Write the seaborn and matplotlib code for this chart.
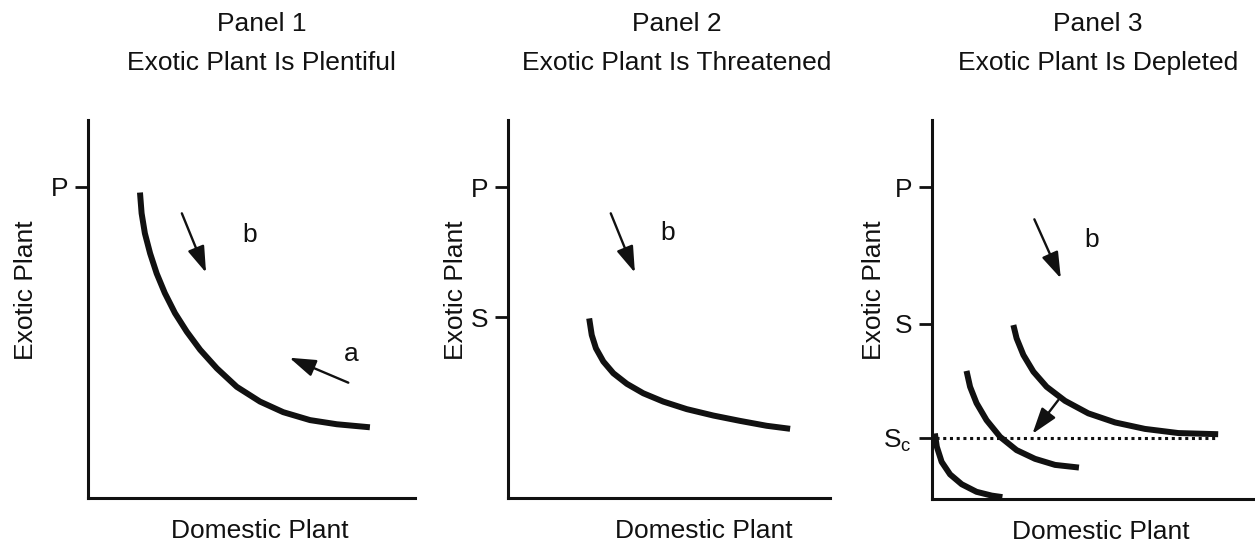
import matplotlib
matplotlib.use("Agg")
import matplotlib.pyplot as plt
import seaborn as sns
import pandas as pd

sns.set_style("white")
plt.rcParams["font.family"] = ["Liberation Sans", "DejaVu Sans"]
plt.rcParams["mathtext.default"] = "regular"

INK = "#111111"
FS = 19

# panel titles and axis names
panel_names = ["Panel 1", "Panel 2", "Panel 3"]
subtitles = ["Exotic Plant Is Plentiful",
             "Exotic Plant Is Threatened",
             "Exotic Plant Is Depleted"]
x_name = "Domestic Plant"
y_name = "Exotic Plant"

# y-axis tick values / labels per panel
p1_ticks, p1_labels = [8.23], ["P"]
p2_ticks, p2_labels = [8.22, 4.78], ["P", "S"]
p3_ticks, p3_labels = [8.23, 4.62, 1.62], ["P", "S", "S$_c$"]

# indifference curves (0-10 units)
p1_x = [1.59, 1.64, 1.74, 1.90, 2.10, 2.35, 2.66, 3.02, 3.43, 3.94, 4.55,
        5.26, 5.97, 6.79, 7.61, 8.62]
p1_y = [8.08, 7.53, 7.00, 6.47, 5.94, 5.42, 4.89, 4.40, 3.92, 3.43, 2.94,
        2.55, 2.27, 2.06, 1.95, 1.87]

p2_x = [2.52, 2.60, 2.73, 2.96, 3.27, 3.69, 4.20, 4.82, 5.55, 6.38, 7.20,
        8.03, 8.76]
p2_y = [4.75, 4.31, 3.96, 3.61, 3.30, 3.02, 2.77, 2.55, 2.35, 2.18, 2.04,
        1.91, 1.83]

p3_hi_x = [2.52, 2.62, 2.83, 3.14, 3.55, 4.12, 4.84, 5.67, 6.59, 7.63, 8.86]
p3_hi_y = [4.59, 4.24, 3.80, 3.36, 2.96, 2.59, 2.26, 2.02, 1.85, 1.74, 1.71]
p3_mid_x = [1.07, 1.18, 1.38, 1.69, 2.11, 2.62, 3.19, 3.81, 4.55]
p3_mid_y = [3.38, 2.96, 2.53, 2.08, 1.64, 1.29, 1.06, 0.90, 0.83]
p3_lo_x = [0.09, 0.15, 0.30, 0.56, 0.92, 1.38, 1.85, 2.18]
p3_lo_y = [1.73, 1.38, 0.98, 0.65, 0.39, 0.19, 0.09, 0.05]

# critical stock line in panel 3
sc_x = [0.12, 8.86]
sc_y = [1.61, 1.61]

# arrows: (start x, start y, end x, end y, label, label x, label y)
p1_arrows = [(2.87, 7.53, 3.61, 5.96, "b", 4.95, 6.96),
             (7.96, 3.05, 6.16, 3.71, "a", 8.06, 3.81)]
p2_arrows = [(3.19, 7.53, 3.94, 5.96, "b", 4.95, 7.00)]
p3_arrows = [(3.17, 7.38, 3.99, 5.82, "b", 4.94, 6.83),
             (3.91, 2.61, 3.11, 1.72, "", 0, 0)]

fig = plt.figure(figsize=(12.55, 5.44), dpi=100)
boxes = [[0.0701, 0.0846, 0.2606, 0.6949],
         [0.4048, 0.0846, 0.2566, 0.6949],
         [0.7426, 0.0827, 0.2574, 0.6967]]
axes = [fig.add_axes(b) for b in boxes]

panels = [
    (p1_ticks, p1_labels, [(p1_x, p1_y)], p1_arrows),
    (p2_ticks, p2_labels, [(p2_x, p2_y)], p2_arrows),
    (p3_ticks, p3_labels, [(p3_hi_x, p3_hi_y), (p3_mid_x, p3_mid_y),
                           (p3_lo_x, p3_lo_y)], p3_arrows),
]
title_x = [0.531, 0.525, 0.514]
xlab_x = [0.526, 0.609, 0.522]
ylab_x = [-0.191, -0.163, -0.178]

for i, (ax, (tk, tl, curves, arrows)) in enumerate(zip(axes, panels)):
    ax.set_xlim(0, 10)
    ax.set_ylim(0, 10)
    sns.despine(ax=ax)
    for side in ["left", "bottom"]:
        ax.spines[side].set_linewidth(2.2)
        ax.spines[side].set_color(INK)
    ax.set_xticks([])
    ax.set_yticks(tk)
    ax.set_yticklabels(tl)
    ax.tick_params(axis="y", left=True, direction="out", length=9.4, width=2.0,
                   color=INK, pad=5, labelsize=FS, labelcolor=INK)

    for cx, cy in curves:
        df = pd.DataFrame({"x": cx, "y": cy})
        sns.lineplot(data=df, x="x", y="y", sort=False, estimator=None,
                     color=INK, lw=4.3, ax=ax, solid_capstyle="butt",
                     solid_joinstyle="round")

    for sx, sy, ex, ey, lab, lx, ly in arrows:
        ax.annotate("", xy=(ex, ey), xytext=(sx, sy),
                    arrowprops=dict(arrowstyle="-|>,head_length=1.0,head_width=0.33",
                                    color=INK, lw=1.7, shrinkA=0, shrinkB=0,
                                    mutation_scale=16))
        if lab:
            ax.text(lx, ly, lab, fontsize=FS, color=INK, ha="center", va="center")

    ax.set_xlabel("")
    ax.set_ylabel("")
    ax.text(xlab_x[i], -0.106, x_name, transform=ax.transAxes, fontsize=FS,
            color=INK, ha="center", va="baseline")
    ax.text(ylab_x[i], 0.55, y_name, transform=ax.transAxes, fontsize=FS,
            color=INK, ha="center", va="center", rotation=90)
    ax.text(title_x[i], 1.234, panel_names[i], transform=ax.transAxes,
            fontsize=FS, color=INK, ha="center", va="baseline")
    ax.text(title_x[i], 1.132, subtitles[i], transform=ax.transAxes,
            fontsize=FS, color=INK, ha="center", va="baseline")

sns.lineplot(x=sc_x, y=sc_y, ax=axes[2], color=INK, lw=2.2,
             linestyle=(0, (1, 1.2)))

fig.savefig("out.png", dpi=100)
